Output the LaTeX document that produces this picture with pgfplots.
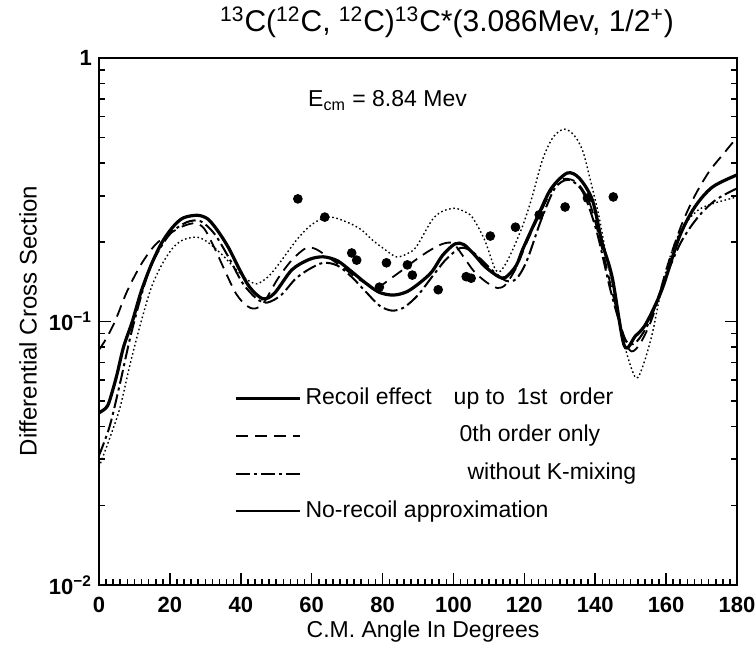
\documentclass[border=0pt]{standalone}
\usepackage{fontspec}
\setmainfont{Liberation Sans}
\usepackage{pgfplots}
\pgfplotsset{compat=1.18}

\begin{document}
\begin{tikzpicture}
\begin{axis}[
  name=ax,
  scale only axis, width=319pt, height=263.5pt,
  xmin=0, xmax=180, ymode=log, ymin=0.01, ymax=1,
  xtick={0,20,...,180}, minor x tick num=9,
  ytick={0.01,0.1,1}, yticklabels={10\textsuperscript{−2},10\textsuperscript{−1},1},
  minor ytick={0.02,0.03,0.04,0.05,0.06,0.07,0.08,0.09,0.2,0.3,0.4,0.5,0.6,0.7,0.8,0.9},
  tick align=inside, xtick pos=bottom, ytick pos=both,
  major tick length=6pt, minor tick length=3pt,
  every tick/.style={black, line width=0.8pt},
  axis line style={line width=1pt},
  /pgf/number format/assume math mode=true,
  tick label style={font=\fontsize{11}{12}\selectfont\bfseries},
  xticklabel style={yshift=-2.5pt},
  legend style={draw=none, fill=none, at={(0.2116,0.378)}, anchor=north west,
    legend cell align=left, row sep=6.85pt, inner sep=0pt,
    font=\fontsize{11.5}{13}\selectfont,
    nodes={inner xsep=2pt, inner ysep=0pt, text height=9pt, text depth=3pt}},
  legend image code/.code={\draw[#1] (0pt,0pt) -- (32pt,0pt);},
]
% recoil effect up to 1st order
\addplot[black, line width=1.6pt, smooth, forget plot] coordinates {
 (0,0.045)(1.98,0.047)(2.97,0.05)(4.95,0.062)(6.92,0.08)(9.4,0.1)(11.9,0.13)(14.8,0.165)
 (17.8,0.2)(20.8,0.228)(23.7,0.247)(27.7,0.253)(30.7,0.245)(33.6,0.22)(36.6,0.19)
 (39.6,0.158)(42.5,0.135)(46.2,0.122)(49.5,0.128)(54.4,0.157)(59.3,0.172)(63.3,0.176)
 (67.3,0.17)(71.2,0.155)(75.2,0.14)(79.1,0.129)(83.1,0.126)(87.0,0.13)(91.0,0.142)
 (94.0,0.155)(96.9,0.178)(100.4,0.197)(102.9,0.196)(105.8,0.18)(108.8,0.162)(112.7,0.148)
 (114.7,0.147)(117.7,0.163)(119.7,0.19)(124.2,0.258)(127.6,0.32)(132.1,0.366)(135.5,0.35)
 (139.2,0.289)(141.9,0.2)(144.8,0.147)(148.2,0.081)(151.3,0.088)(154.3,0.098)(158.8,0.132)
 (163.7,0.209)(168.1,0.272)(173.1,0.324)(180,0.36)};
% 0th order only
\addplot[black, line width=0.9pt, dash pattern=on 6pt off 3.5pt, smooth, forget plot] coordinates {
 (0,0.078)(2,0.086)(4.5,0.1)(7.9,0.13)(11.9,0.165)(15.8,0.195)(19.8,0.215)(23.7,0.23)
 (27.2,0.236)(29.7,0.225)(32.6,0.19)(35.6,0.155)(38.6,0.128)(41.5,0.115)(44,0.112)
 (46.5,0.118)(50.4,0.145)(54.4,0.171)(58.4,0.19)(61.3,0.188)(65.3,0.173)(68.7,0.161)
 (72.2,0.148)(75.2,0.14)(78.6,0.135)(82.1,0.145)(85.1,0.155)(89,0.17)(93,0.185)
 (96.9,0.197)(99.9,0.198)(102.6,0.178)(105.8,0.155)(109.3,0.141)(112.4,0.134)(114.7,0.138)
 (117.7,0.16)(120.7,0.2)(124.6,0.26)(128.6,0.33)(131.5,0.348)(135,0.335)(138.5,0.28)
 (141.9,0.19)(145.4,0.12)(148.4,0.085)(150.3,0.077)(152.8,0.083)(156.3,0.105)(160.2,0.16)
 (164.2,0.23)(168.1,0.3)(172.1,0.37)(176,0.43)(180,0.5)};
% without K-mixing
\addplot[black, line width=1pt, dash pattern=on 7pt off 2pt on 1.5pt off 2pt, smooth, forget plot] coordinates {
 (0,0.031)(3,0.04)(5.9,0.058)(8.9,0.088)(11.9,0.125)(14.8,0.165)(19.8,0.213)(24.7,0.238)
 (28.7,0.24)(32.6,0.215)(36.6,0.175)(40.5,0.14)(44.5,0.122)(47.5,0.118)(51.4,0.126)
 (55.4,0.145)(59.3,0.158)(63.3,0.167)(67.3,0.163)(71.2,0.148)(75.2,0.13)(79.1,0.115)
 (82.6,0.11)(86,0.113)(90,0.126)(94,0.148)(97.9,0.172)(101.9,0.19)(104.8,0.186)
 (107.8,0.172)(110.8,0.157)(114.7,0.143)(117.7,0.145)(120.7,0.17)(124.6,0.24)(128.6,0.32)
 (132.5,0.345)(136.5,0.31)(140.4,0.22)(144.4,0.13)(148.4,0.086)(151.3,0.083)(155.3,0.1)
 (159.2,0.14)(164.2,0.2)(169.1,0.25)(174.1,0.29)(180,0.32)};
% no-recoil approximation
\addplot[black, line width=0.7pt, dash pattern=on 0.8pt off 1.3pt, smooth, forget plot] coordinates {
 (0,0.028)(3,0.036)(5.9,0.047)(8.9,0.07)(11.9,0.1)(14.8,0.135)(17.8,0.165)(20.8,0.19)
 (23.7,0.204)(27.6,0.209)(30.7,0.2)(34.6,0.18)(38.6,0.158)(41.5,0.145)(44.5,0.139)
 (47.5,0.147)(50.1,0.161)(53.4,0.185)(56.4,0.209)(59.8,0.232)(63.3,0.247)(66.3,0.248)
 (70.7,0.236)(74.2,0.222)(77.1,0.204)(80.1,0.19)(83.9,0.176)(87,0.181)(89.5,0.192)
 (94,0.243)(96.9,0.262)(100.3,0.269)(102.9,0.262)(105.3,0.249)(108.8,0.204)(111.6,0.16)
 (113.2,0.155)(115.7,0.175)(119.5,0.23)(122.2,0.297)(125.1,0.41)(128.1,0.5)(131.2,0.537)
 (134,0.51)(136.4,0.447)(138.5,0.35)(141.1,0.249)(143.4,0.17)(145.9,0.12)(148.4,0.08)
 (151.5,0.061)(153.8,0.07)(156.1,0.09)(158,0.12)(160.2,0.16)(162.8,0.204)(165.7,0.238)
 (169.1,0.265)(173.1,0.28)(180,0.297)};
% experimental data
\addplot[only marks, mark=*, mark size=2.2pt, black, forget plot] coordinates {
 (56.1,0.292)(63.7,0.249)(71.3,0.182)(72.7,0.171)(79.1,0.135)(81.1,0.167)(87.0,0.164)
 (88.4,0.150)(95.7,0.132)(103.6,0.148)(105.0,0.146)(110.4,0.211)(117.5,0.228)
 (124.2,0.254)(131.5,0.272)(137.8,0.294)(145.1,0.297)};
\addlegendimage{black, line width=1.6pt}
\addlegendentry{Recoil effect\hspace{11pt}up to\hspace{6pt}1st\hspace{6pt}order}
\addlegendimage{black, line width=0.9pt, dash pattern=on 6pt off 3.5pt}
\addlegendentry{\hspace{77pt}0th order only}
\addlegendimage{black, line width=1pt, dash pattern=on 7pt off 2pt on 1.5pt off 2pt}
\addlegendentry{\hspace{81pt}without K-mixing}
\addlegendimage{black, line width=0.9pt}
\addlegendentry{No-recoil approximation}
\node[font=\fontsize{11.5}{13}\selectfont] at (axis cs:81.4,0.69) {E\textsubscript{cm} = 8.84 Mev};
\node[font=\fontsize{10.5}{12}\selectfont] at (axis description cs:-0.058,0.92) {mb/sr};
\end{axis}
\node[font=\fontsize{15}{18}\selectfont] at ([shift={(174pt,281.5pt)}]ax.south west)
  {\textsuperscript{13}C(\textsuperscript{12}C, \textsuperscript{12}C)\textsuperscript{13}C*(3.086Mev, 1/2\textsuperscript{+})};
\node[font=\fontsize{12}{14}\selectfont, rotate=90] at ([shift={(-35.5pt,132pt)}]ax.south west) {Differential Cross Section};
\node[font=\fontsize{11.5}{13}\selectfont] at ([shift={(162pt,-23.5pt)}]ax.south west) {C.M. Angle In Degrees};
\pgfresetboundingbox
\path[use as bounding box] ([shift={(-49.5pt,-32.5pt)}]ax.south west) rectangle ([shift={(328.5pt,292.5pt)}]ax.south west);
\end{tikzpicture}
\end{document}
